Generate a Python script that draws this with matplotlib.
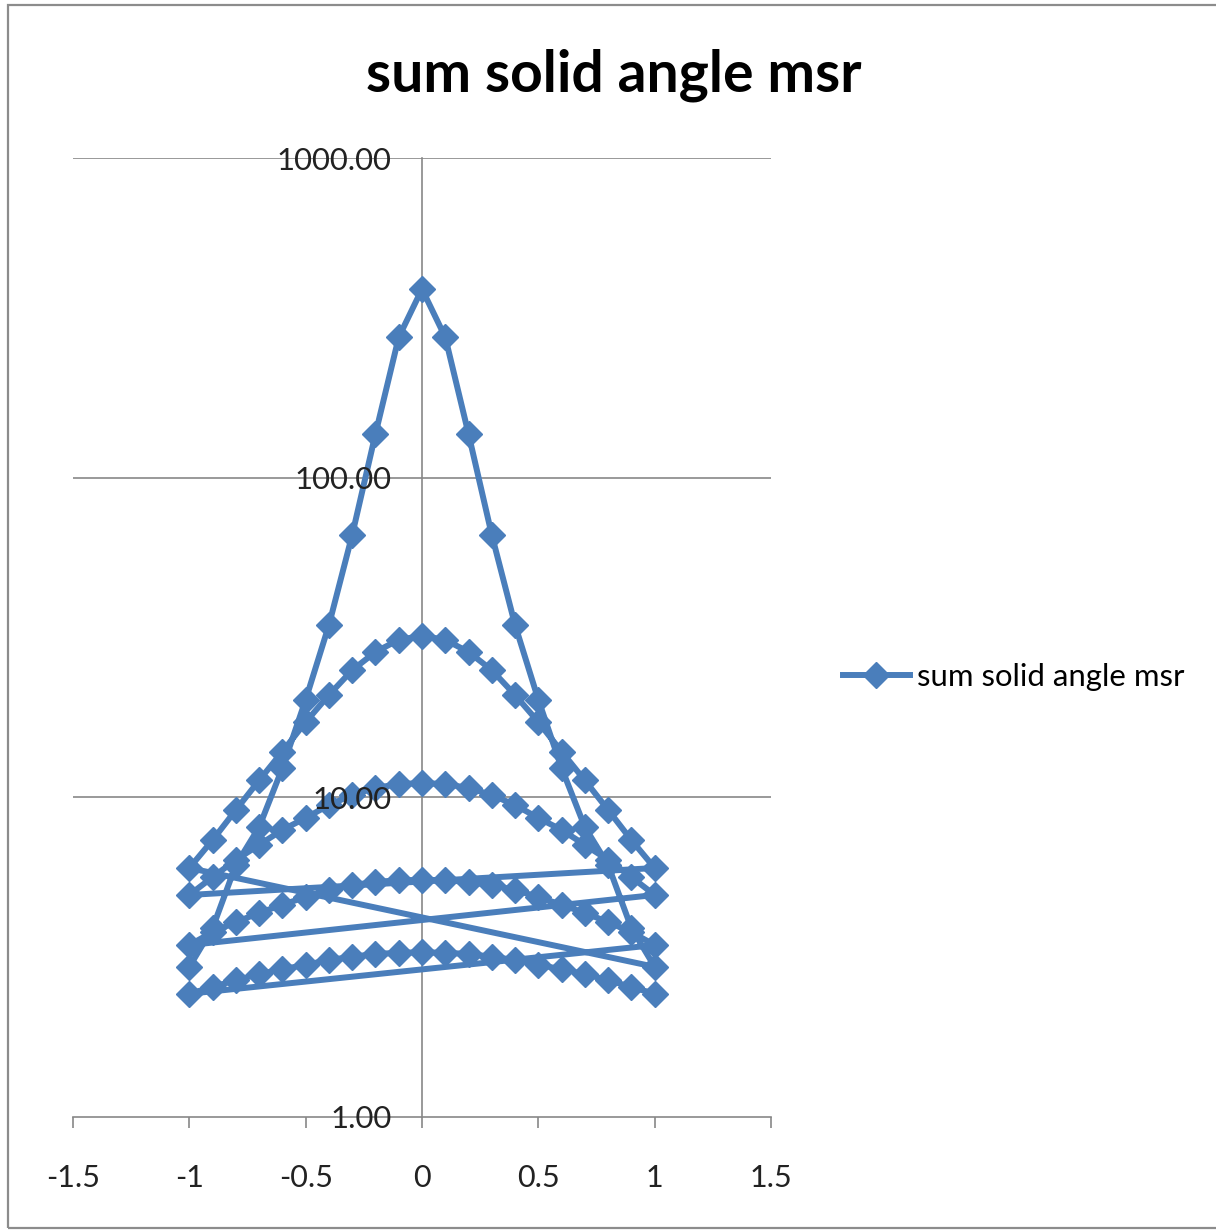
import matplotlib
matplotlib.use("Agg")
import matplotlib.pyplot as plt
from matplotlib.patches import Rectangle
import numpy as np

# x positions of each sweep (same for every curve)
x_sweep = [-1.0, -0.9, -0.8, -0.7, -0.6, -0.5, -0.4, -0.3, -0.2, -0.1, 0.0,
           0.1, 0.2, 0.3, 0.4, 0.5, 0.6, 0.7, 0.8, 0.9, 1.0]

# five consecutive sweeps of the single series "sum solid angle msr"
sweep_1 = [2.95, 3.90, 6.14, 8.07, 12.35, 20.2, 34.6, 66.2, 137, 275, 389,
           275, 137, 66.2, 34.6, 20.2, 12.35, 8.07, 6.14, 3.90, 2.95]
sweep_2 = [6.01, 7.35, 9.13, 11.3, 13.9, 17.2, 20.9, 25.0, 28.5, 31.1, 32.0,
           31.1, 28.5, 25.0, 20.9, 17.2, 13.9, 11.3, 9.13, 7.35, 6.01]
sweep_3 = [4.95, 5.63, 6.37, 7.10, 7.91, 8.62, 9.46, 10.17, 10.7, 11.0, 11.09,
           11.0, 10.7, 10.17, 9.46, 8.62, 7.91, 7.10, 6.37, 5.63, 4.95]
sweep_4 = [3.45, 3.79, 4.07, 4.35, 4.61, 4.88, 5.13, 5.32, 5.43, 5.51, 5.51,
           5.51, 5.43, 5.32, 5.13, 4.88, 4.61, 4.35, 4.07, 3.79, 3.45]
sweep_5 = [2.43, 2.55, 2.68, 2.80, 2.90, 2.99, 3.10, 3.17, 3.24, 3.26, 3.28,
           3.26, 3.24, 3.17, 3.10, 2.99, 2.90, 2.80, 2.68, 2.55, 2.43]

series_name = "sum solid angle msr"
x_ticks = [-1.5, -1.0, -0.5, 0.0, 0.5, 1.0, 1.5]
x_tick_labels = ["-1.5", "-1", "-0.5", "0", "0.5", "1", "1.5"]
y_ticks = [1, 10, 100, 1000]
y_tick_labels = ["1.00", "10.00", "100.00", "1000.00"]
grid_levels = [10, 100, 1000]

sweeps = [sweep_1, sweep_2, sweep_3, sweep_4, sweep_5]
xs = []
ys = []
for s in sweeps:
    xs.extend(x_sweep)
    ys.extend(s)

plt.rcParams['font.family'] = ['Lato', 'DejaVu Sans']

W, H = 1216, 1230
fig = plt.figure(figsize=(W / 100, H / 100), dpi=100)
fig.patch.set_facecolor('white')

# outer chart border
fig.add_artist(Rectangle((8 / W, 1 - 1228 / H), 1.2, (1228 - 5) / H,
                         transform=fig.transFigure, fill=False,
                         edgecolor='#8c8c8c', linewidth=1.6))

ax = fig.add_axes([73 / W, 1 - 1117 / H, (771 - 73) / W, (1117 - 158) / H])
ax.set_facecolor('none')
ax.set_yscale('log')
ax.set_xlim(-1.5, 1.5)
ax.set_ylim(1, 1000)

grid_c = '#878787'
for g in grid_levels:
    ax.axhline(g, color=grid_c, linewidth=1.2, zorder=1)

blue = '#4a7ebb'
ax.plot(xs, ys, color=blue, linewidth=4.3, marker='D', markersize=13.5,
        markeredgecolor=blue, markerfacecolor=blue, label=series_name,
        solid_joinstyle='round', zorder=3)

for s in ['top', 'right']:
    ax.spines[s].set_visible(False)
ax.spines['left'].set_position(('data', 0))
ax.spines['left'].set_color(grid_c)
ax.spines['bottom'].set_color(grid_c)
ax.spines['left'].set_linewidth(1.2)
ax.spines['bottom'].set_linewidth(1.2)
ax.spines['left'].set_zorder(1.5)

ax.set_yticks(y_ticks)
ax.set_yticklabels(y_tick_labels)
ax.yaxis.set_minor_locator(matplotlib.ticker.NullLocator())
ax.tick_params(axis='y', length=0, pad=22, labelsize=22.4, labelcolor='#222222')
ax.yaxis.set_zorder(5)

ax.set_xticks(x_ticks)
ax.set_xticklabels(x_tick_labels)
ax.tick_params(axis='x', length=8, width=1.2, color=grid_c, direction='out',
               pad=26, labelsize=22, labelcolor='#222222')

fig.text(614 / W, 1 - 75 / H, "sum solid angle msr", ha='center', va='center',
         fontsize=41, fontweight='bold', color='black')

leg = ax.legend(loc='center left', bbox_to_anchor=(843 / W, 1 - 677 / H),
                bbox_transform=fig.transFigure, frameon=False, fontsize=22.4,
                handlelength=2.15, handletextpad=0.23, borderaxespad=0,
                borderpad=0)

fig.savefig('out.png', dpi=100, facecolor='white')
